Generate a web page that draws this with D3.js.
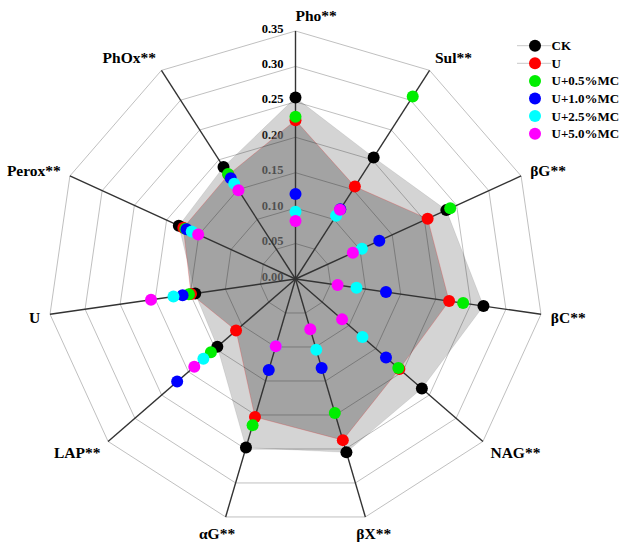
<!DOCTYPE html>
<html><head><meta charset="utf-8">
<script src="https://cdn.jsdelivr.net/npm/d3@7"></script>
<style>body{margin:0;background:#fff}svg{display:block}</style>
</head><body>
<svg id="chart" width="622" height="545"></svg>
<script>
const axesNames = ["Pho**","Sul**","βG**","βC**","NAG**","βX**","αG**","LAP**","U","Perox**","PhOx**"];
const tickValues = [0.00,0.05,0.10,0.15,0.20,0.25,0.30,0.35];
const tickLabels = ["0.00","0.05","0.10","0.15","0.20","0.25","0.30","0.35"];
const seriesNames = ["CK","U","U+0.5%MC","U+1.0%MC","U+2.5%MC","U+5.0%MC"];
const seriesColors = ["#000000","#ff0000","#00ee00","#0000ff","#00ffff","#ff00ff"];
const ck    = [0.256,0.204,0.234,0.268,0.236,0.255,0.248,0.146,0.143,0.181,0.188];
const u     = [0.224,0.155,0.205,0.219,0.194,0.237,0.203,0.111,0.149,0.174,0.175];
const mc05  = [0.229,0.306,0.240,0.239,0.192,0.197,0.215,0.158,0.152,0.171,0.176];
const mc10  = [0.120,0.117,0.130,0.129,0.169,0.131,0.134,0.221,0.161,0.169,0.169];
const mc25  = [0.095,0.106,0.103,0.087,0.125,0.104,0.099,0.172,0.174,0.161,0.160];
const mc50  = [0.082,0.116,0.089,0.060,0.087,0.074,0.099,0.189,0.206,0.151,0.149];
const seriesValues = [ck,u,mc05,mc10,mc25,mc50];

const svg = d3.select("#chart");
const cx = 295.5, cy = 279, R = 248;
const n = axesNames.length;
const r = d3.scaleLinear().domain([0,0.35]).range([0,R]);
const ang = d3.scaleLinear().domain([0,n]).range([0,2*Math.PI]);
const font = "'Liberation Serif','Times New Roman',serif";

const g = svg.append("g").attr("transform",`translate(${cx},${cy})`);
const radial = d3.lineRadial().angle((d,i)=>ang(i)).radius(d=>r(d)).curve(d3.curveLinearClosed);

// tick labels (under fills)
g.selectAll("text.tick").data(tickValues).join("text")
  .attr("x",-12).attr("y",d=>-r(d)+1.5)
  .attr("text-anchor","end")
  .attr("font-family",font).attr("font-weight","bold").attr("font-size","12.5px")
  .attr("fill","#000")
  .text((d,i)=>tickLabels[i]);

// filled areas for CK and U
g.append("path").attr("d",radial(ck))
  .attr("fill","rgb(112,112,112)").attr("fill-opacity",0.3)
  .attr("stroke","#000").attr("stroke-opacity",0.08);
g.append("path").attr("d",radial(u))
  .attr("fill","rgb(120,120,120)").attr("fill-opacity",0.535)
  .attr("stroke","#ff0000").attr("stroke-opacity",0.2);

// grid rings
g.selectAll("path.ring").data(tickValues.filter(t=>t>0)).join("path")
  .attr("d",t=>radial(d3.range(n).map(()=>t)))
  .attr("fill","none").attr("stroke","#000").attr("stroke-opacity",0.25).attr("stroke-width",1);

// axes
g.selectAll("line.axis").data(axesNames).join("line")
  .attr("x1",0).attr("y1",0)
  .attr("x2",(d,i)=>r(0.35)*Math.sin(ang(i)))
  .attr("y2",(d,i)=>-r(0.35)*Math.cos(ang(i)))
  .attr("stroke","#333").attr("stroke-width",1.4);

// axis labels
g.selectAll("text.axlab").data(axesNames).join("text")
  .attr("font-family",font).attr("font-weight","bold").attr("font-size","15.5px")
  .attr("text-anchor","middle").attr("dy","0.35em")
  .text(d=>d)
  .each(function(d,i){
    const x = Math.sin(ang(i)), y = -Math.cos(ang(i));
    const w = this.getComputedTextLength();
    const f = Math.abs(x)<0.05 ? 1 : Math.min(1, x*x*4);
    const sg = x>=-0.05 ? 1 : -1;
    const ex = R*x, ey = R*y;
    d3.select(this).attr("x", ex + sg*(w/2)*f + x*10).attr("y", ey + y*16 + 1);
  });

// dots
seriesValues.forEach((vals,s)=>{
  g.selectAll(null).data(vals).join("circle")
    .attr("cx",(d,i)=>r(d)*Math.sin(ang(i)))
    .attr("cy",(d,i)=>-r(d)*Math.cos(ang(i)))
    .attr("r",6).attr("fill",seriesColors[s]);
});

// legend
const lg = svg.append("g");
const ly = d3.scaleLinear().domain([0,1]).range([45.7,63.3]);
seriesNames.forEach((name,s)=>{
  const y = ly(s);
  if (s<2) lg.append("line").attr("x1",517).attr("x2",551).attr("y1",y).attr("y2",y)
    .attr("stroke","#c8c8c8").attr("stroke-width",1);
  lg.append("circle").attr("cx",535).attr("cy",y).attr("r",6).attr("fill",seriesColors[s]);
  lg.append("text").attr("x",551.5).attr("y",y).attr("dy","0.35em")
    .attr("font-family",font).attr("font-weight","bold").attr("font-size","13px")
    .text(name);
});
</script>
</body></html>
